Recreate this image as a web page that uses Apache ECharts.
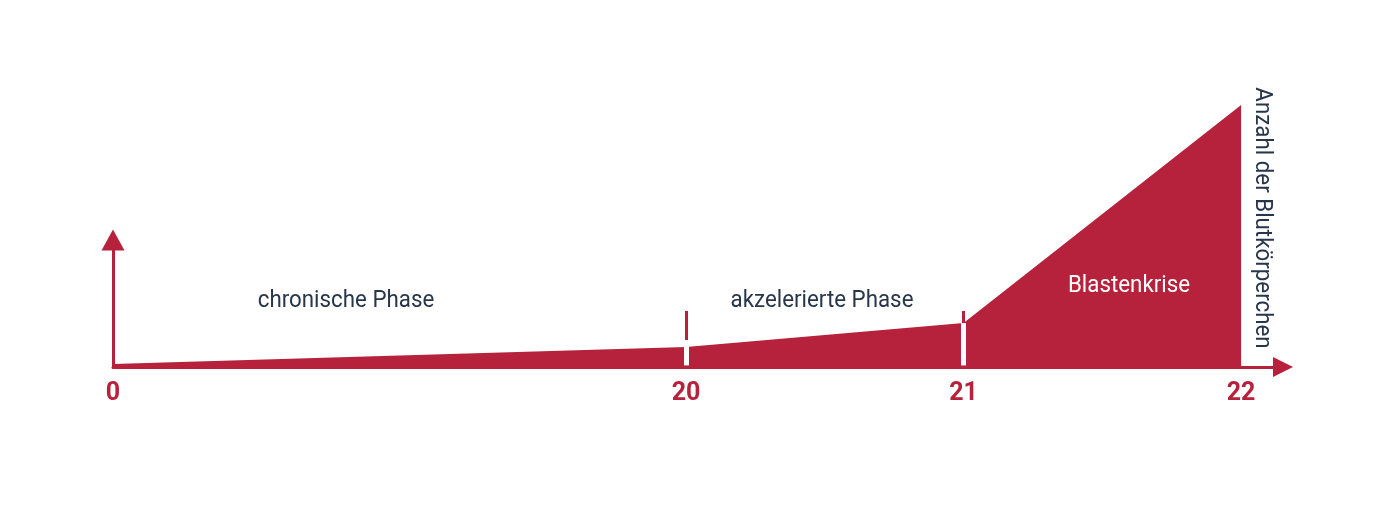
<!DOCTYPE html>
<html>
<head>
<meta charset="utf-8">
<script src="https://cdn.jsdelivr.net/npm/echarts@6/dist/echarts.min.js"></script>
<style>
html,body{margin:0;padding:0;background:#fff;}
#c{width:1375px;height:520px;}
</style>
</head>
<body>
<div id="c"></div>
<script>
// ---- data ----
const phaseNames = ['chronische Phase', 'akzelerierte Phase', 'Blastenkrise'];
const xTicks = [0, 20, 21, 22];
// count of blood cells (relative units, 0..100) at each tick
const cellCounts = [1.1, 7.6, 16.8, 100];
const yAxisName = 'Anzahl der Blutkörperchen';
const tickTop = 21.4;     // top of the phase boundary marks
const gapTop20 = 10.3;    // white separator top at 20

// ---- layout ----
const RED = '#b6223b';
const TXT = '#27364b';
const FONT = 'Roboto, sans-serif';
const baseY = 367, topY = 105, arrowY = 240;
const yMax = 100;
const pxPerUnit = (baseY - topY) / yMax;
const y0Max = (baseY - arrowY) / pxPerUnit;

const seg1 = [[xTicks[0], cellCounts[0]], [xTicks[1], cellCounts[1]]];
const seg2 = [[xTicks[1], cellCounts[1]], [xTicks[2], cellCounts[2]], [xTicks[3], cellCounts[3]]];

const chart = echarts.init(document.getElementById('c'));
const labelStyle = {color: RED, fontSize: 25, fontWeight: 'bold', fontFamily: FONT, margin: 14};

chart.setOption({
  animation: false,
  grid: [
    {left: 113, width: 573, top: arrowY, bottom: 520 - baseY},
    {left: 686, width: 597, top: topY, bottom: 520 - baseY}
  ],
  xAxis: [
    {gridIndex: 0, type: 'value', min: 0, max: 20, interval: 20,
     axisLine: {lineStyle: {color: RED, width: 3}}, axisTick: {show: false},
     splitLine: {show: false}, axisLabel: labelStyle},
    {gridIndex: 1, type: 'value', min: 20, max: 22.151, interval: 1,
     axisLine: {lineStyle: {color: RED, width: 3}, symbol: ['none', 'triangle'], symbolSize: [20, 20]},
     axisTick: {show: false}, splitLine: {show: false},
     axisLabel: Object.assign({showMinLabel: false, showMaxLabel: false}, labelStyle)}
  ],
  yAxis: [
    {gridIndex: 0, type: 'value', min: 0, max: y0Max,
     axisLine: {show: true, lineStyle: {color: RED, width: 3}, symbol: ['none', 'triangle'], symbolSize: [23, 21]},
     axisTick: {show: false}, axisLabel: {show: false}, splitLine: {show: false}},
    {gridIndex: 1, type: 'value', min: 0, max: yMax, show: false, splitLine: {show: false}}
  ],
  series: [
    {type: 'line', xAxisIndex: 1, yAxisIndex: 1, data: [], z: 1, silent: true,
     markLine: {symbol: 'none', silent: true, label: {show: false},
       lineStyle: {color: RED, width: 3, type: 'solid'},
       data: [
         [{coord: [xTicks[1], 0]}, {coord: [xTicks[1], tickTop]}],
         [{coord: [xTicks[2], 0]}, {coord: [xTicks[2], tickTop]}]
       ]}},
    {type: 'line', xAxisIndex: 0, yAxisIndex: 0, data: seg1, symbol: 'none', z: 2,
     lineStyle: {width: 0}, areaStyle: {color: RED, opacity: 1}},
    {type: 'line', xAxisIndex: 1, yAxisIndex: 1, data: seg2, symbol: 'none', z: 2,
     lineStyle: {width: 0}, areaStyle: {color: RED, opacity: 1}},
    {type: 'line', xAxisIndex: 1, yAxisIndex: 1, data: [], z: 3, silent: true,
     markLine: {symbol: 'none', silent: true, label: {show: false},
       lineStyle: {color: '#fff', width: 5, type: 'solid'},
       data: [
         [{coord: [xTicks[1], 0.6]}, {coord: [xTicks[1], gapTop20]}],
         [{coord: [xTicks[2], 0.6]}, {coord: [xTicks[2], cellCounts[2]]}]
       ]}}
  ],
  graphic: [
    {type: 'text', x: 346, y: 301, scaleX: 0.93, style: {text: phaseNames[0], fill: TXT, font: '24px ' + FONT, align: 'center', verticalAlign: 'middle'}},
    {type: 'text', x: 822, y: 301, scaleX: 0.93, style: {text: phaseNames[1], fill: TXT, font: '24px ' + FONT, align: 'center', verticalAlign: 'middle'}},
    {type: 'text', x: 1129, y: 286, z: 10, scaleX: 0.93, style: {text: phaseNames[2], fill: '#fff', font: '24px ' + FONT, align: 'center', verticalAlign: 'middle'}},
    {type: 'text', x: 1262, y: 218, rotation: -Math.PI / 2, scaleX: 0.93, style: {text: yAxisName, fill: TXT, font: '24px ' + FONT, align: 'center', verticalAlign: 'middle'}}
  ]
});
</script>
</body>
</html>
